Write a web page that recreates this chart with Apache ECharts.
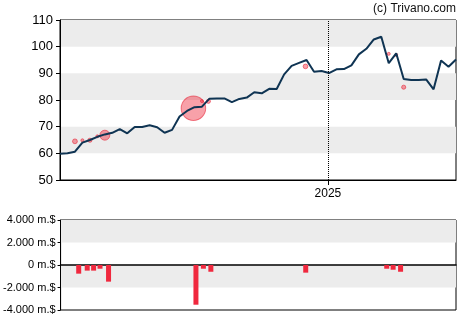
<!DOCTYPE html>
<html>
<head>
<meta charset="utf-8">
<script src="https://cdn.jsdelivr.net/npm/echarts@6/dist/echarts.min.js"></script>
<style>
  html, body { margin: 0; padding: 0; background: #fff; }
  #chart { width: 470px; height: 325px; }
</style>
</head>
<body>
<div id="chart"></div>
<script>
// Weekly closing prices
const weeks = [
  '2024-04-25','2024-05-02','2024-05-09','2024-05-16','2024-05-23','2024-05-30','2024-06-06','2024-06-13',
  '2024-06-20','2024-06-27','2024-07-04','2024-07-11','2024-07-18','2024-07-25','2024-08-01','2024-08-08',
  '2024-08-15','2024-08-22','2024-08-29','2024-09-05','2024-09-12','2024-09-19','2024-09-26','2024-10-03',
  '2024-10-10','2024-10-17','2024-10-24','2024-10-31','2024-11-07','2024-11-14','2024-11-21','2024-11-28',
  '2024-12-05','2024-12-12','2024-12-19','2024-12-26','2025-01-02','2025-01-09','2025-01-16','2025-01-23',
  '2025-01-30','2025-02-06','2025-02-13','2025-02-20','2025-02-27','2025-03-06','2025-03-13','2025-03-20',
  '2025-03-27','2025-04-03','2025-04-10','2025-04-17','2025-04-24','2025-05-01'
];
const prices = [
  59.8, 60, 60.6, 64, 65, 66.2, 67.1, 67.7, 69.1, 67.5,
  69.9, 69.9, 70.5, 69.8, 67.7, 68.8, 73.8, 75.9, 77.3, 77.5,
  80.5, 80.6, 80.6, 79.2, 80.4, 80.9, 82.9, 82.5, 84.2, 84.1,
  89.6, 92.8, 93.9, 95, 90.6, 90.9, 90.1, 91.5, 91.6, 93,
  97.1, 99.2, 102.7, 103.7, 93.8, 97.5, 87.9, 87.5, 87.5, 87.7,
  84, 94.8, 92.5, 95.2
];

// Insider trades: date, trade price, volume (m.$)
const tradeDates = [
  '2024-05-09','2024-05-16','2024-05-23','2024-05-30','2024-06-06','2024-08-28',
  '2024-09-05','2024-09-11','2024-12-11','2025-02-27','2025-03-06','2025-03-13'
];
const tradePrices = [64.5, 64.9, 64.9, 66.4, 66.8, 76.9, 79.6, 79.5, 92.6, 97.3, 96.9, 84.8];
const tradeVolumes = [700, 250, 600, 200, 1450, 3550, 250, 600, 680, 250, 150, 600];

// Net insider flow (m.$)
const flowDates = [
  '2024-05-12','2024-05-20','2024-05-26','2024-06-01','2024-06-09','2024-08-30',
  '2024-09-06','2024-09-13','2024-12-11','2025-02-25','2025-03-03','2025-03-10'
];
const flowValues = [-770, -500, -500, -330, -1480, -3530, -330, -600, -680, -330, -420, -600];

// Axis setup
const yearMark = '2025-01-01';
const priceMin = 50, priceMax = 110, priceStep = 10;
const flowMin = -4000, flowMax = 4000, flowStep = 2000;

const FONT = 'Arial, "Liberation Sans", sans-serif';
const BAND = '#ececec';

const ts = d => echarts.time.parse(d).getTime();

function fmtMoney(v) {
  const s = Math.abs(v).toString().replace(/\B(?=(\d{3})+(?!\d))/g, '.');
  return (v < 0 ? '-' : '') + s + ' m.$';
}

const chart = echarts.init(document.getElementById('chart'), null, { renderer: 'canvas' });

const yearTs = ts(yearMark);
const xMin = ts(weeks[0]);
const xMax = ts(weeks[weeks.length - 1]);

chart.setOption({
  animation: false,
  backgroundColor: '#fff',
  graphic: [{
    type: 'text',
    right: 14,
    top: 3,
    style: { text: '(c) Trivano.com', font: '12px ' + FONT, fill: '#111' }
  }],
  grid: [
    { left: 60, right: 14, top: 20, height: 160, show: true, borderColor: '#000', borderWidth: 1, backgroundColor: 'transparent' },
    { left: 60, right: 14, top: 220, height: 90, show: true, borderColor: '#000', borderWidth: 1, backgroundColor: 'transparent' }
  ],
  xAxis: [
    {
      type: 'value', gridIndex: 0,
      min: xMin, max: xMax,
      axisLine: { show: true, lineStyle: { color: '#000', width: 1 } },
      axisTick: { show: true, customValues: [yearTs], length: 5, lineStyle: { color: '#000' } },
      axisLabel: {
        customValues: [yearTs], margin: 8,
        formatter: function (v) { return String(new Date(v).getFullYear()); },
        color: '#000', fontSize: 12, fontFamily: FONT
      },
      splitLine: { show: false }
    },
    {
      type: 'value', gridIndex: 1,
      min: xMin, max: xMax,
      axisLine: { show: true, onZero: true, lineStyle: { color: '#000', width: 1.5 } },
      axisTick: { show: false },
      axisLabel: { show: false },
      splitLine: { show: false }
    }
  ],
  yAxis: [
    {
      type: 'value', gridIndex: 0,
      min: priceMin, max: priceMax, interval: priceStep,
      axisLine: { show: true, lineStyle: { color: '#000', width: 1 } },
      axisTick: { show: true, length: 4, lineStyle: { color: '#000' } },
      axisLabel: { color: '#000', fontSize: 13, fontFamily: FONT, margin: 7 },
      splitLine: { show: false },
      splitArea: { show: true, areaStyle: { color: ['rgba(255,255,255,0)', BAND] } }
    },
    {
      type: 'value', gridIndex: 1,
      min: flowMin, max: flowMax, interval: flowStep,
      axisLine: { show: true, lineStyle: { color: '#000', width: 1 } },
      axisTick: { show: true, length: 3, lineStyle: { color: '#000' } },
      axisLabel: { color: '#000', fontSize: 11, fontFamily: FONT, margin: 5, formatter: fmtMoney },
      splitLine: { show: false },
      splitArea: { show: true, areaStyle: { color: ['rgba(255,255,255,0)', BAND] } }
    }
  ],
  series: [
    {
      name: 'trades', type: 'scatter', xAxisIndex: 0, yAxisIndex: 0, z: 2,
      data: tradeDates.map((d, i) => [ts(d), tradePrices[i], tradeVolumes[i]]),
      symbolSize: function (v) { return Math.max(3, v[2] * 0.0069); },
      itemStyle: { color: 'rgba(238,40,60,0.55)', borderColor: 'rgba(230,30,50,0.7)', borderWidth: 1 }
    },
    {
      name: 'price', type: 'line', xAxisIndex: 0, yAxisIndex: 0, z: 3,
      data: weeks.map((d, i) => [ts(d), prices[i]]),
      showSymbol: false, symbol: 'none',
      lineStyle: { color: '#0f3453', width: 2 },
      markLine: {
        silent: true, symbol: ['none', 'none'],
        label: { show: false },
        lineStyle: { color: '#000', type: 'dotted', width: 1 },
        data: [{ xAxis: yearTs }]
      }
    },
    {
      name: 'flow', type: 'bar', xAxisIndex: 1, yAxisIndex: 1,
      data: flowDates.map((d, i) => [ts(d), flowValues[i]]),
      barWidth: 5,
      itemStyle: { color: '#f0283e' }
    }
  ]
});
</script>
</body>
</html>
